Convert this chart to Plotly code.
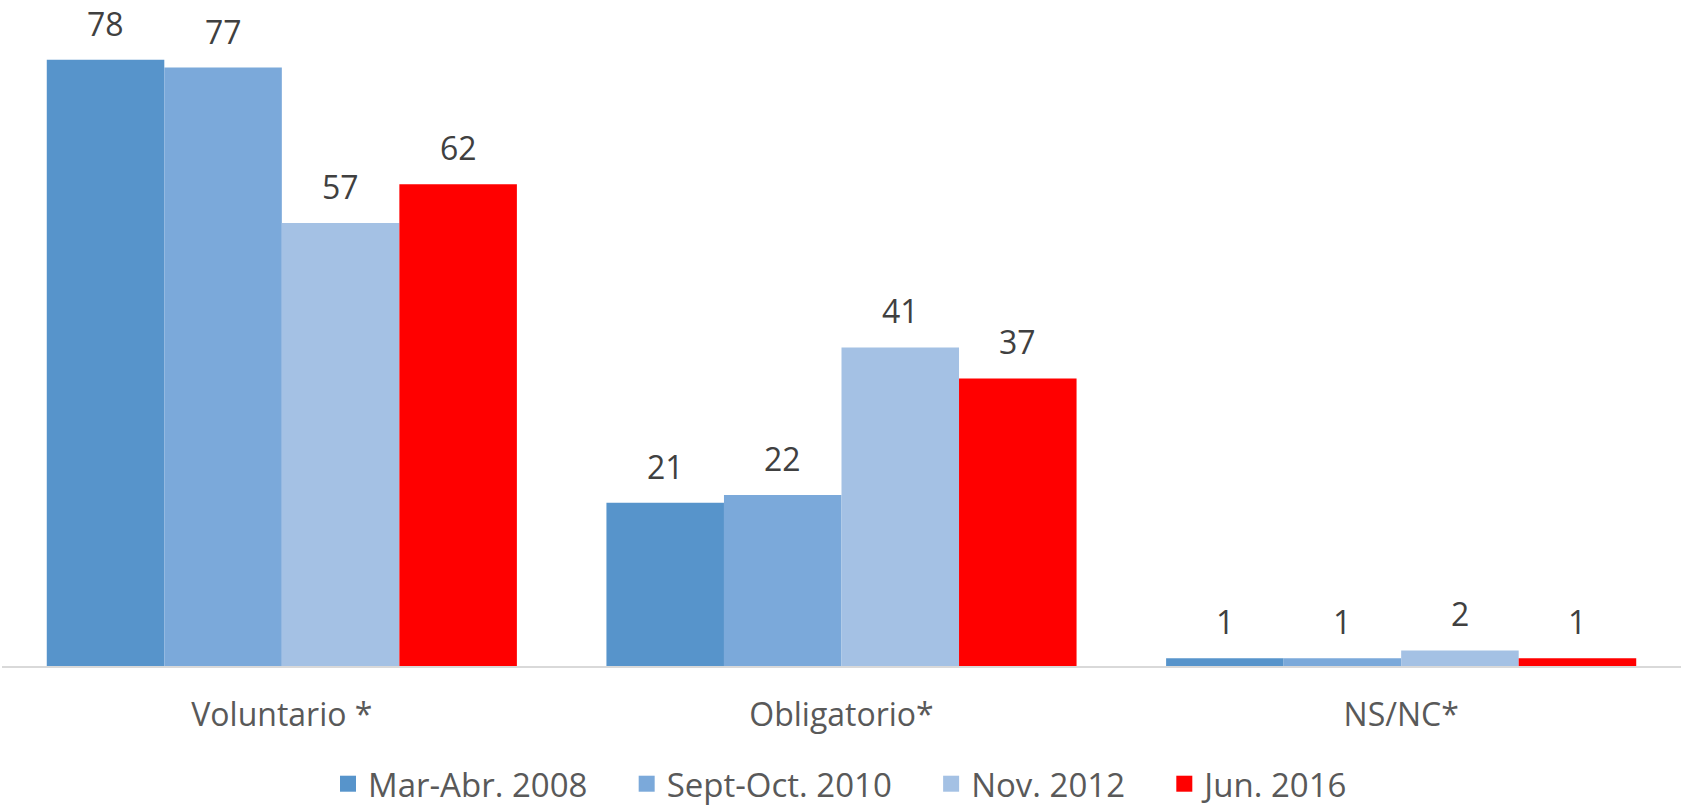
import plotly.graph_objects as go

categories = ["Voluntario *", "Obligatorio*", "NS/NC*"]
series_names = ["Mar-Abr. 2008", "Sept-Oct. 2010", "Nov. 2012", "Jun. 2016"]
vals_2008 = [78, 21, 1]
vals_2010 = [77, 22, 1]
vals_2012 = [57, 41, 2]
vals_2016 = [62, 37, 1]
colors = ["#5794CB", "#7BA9DA", "#A4C1E4", "#FF0000"]

all_vals = [vals_2008, vals_2010, vals_2012, vals_2016]
bargap = 0.16
n = len(all_vals)
bw = (1 - bargap) / n

fig = go.Figure()
for name, vals, col in zip(series_names, all_vals, colors):
    fig.add_trace(go.Bar(x=categories, y=vals, name=name, showlegend=False,
                         marker=dict(color=col, line=dict(width=0))))

# legend-only entries with larger square swatches
pad = "\u00a0" * 4
for k, (name, col) in enumerate(zip(series_names, colors)):
    label = name + (pad if k < n - 1 else "")
    fig.add_trace(go.Scatter(x=[None], y=[None], mode="markers", name=label,
                             marker=dict(symbol="square", size=16, color=col)))

annotations = []
for i, vals in enumerate(all_vals):
    for j, v in enumerate(vals):
        annotations.append(dict(
            x=j + (i - (n - 1) / 2) * bw, y=v, xref="x", yref="y",
            text=str(v), showarrow=False, yanchor="bottom", yshift=13,
            font=dict(family="Open Sans", size=32, color="#404040"),
        ))

fig.update_layout(
    width=1681, height=808,
    margin=dict(l=2, r=0, t=0, b=142, autoexpand=False),
    barmode="group", bargap=bargap, bargroupgap=0,
    plot_bgcolor="white", paper_bgcolor="white",
    font=dict(family="Open Sans", size=32, color="#595959"),
    xaxis=dict(showline=True, linecolor="#D9D9D9", linewidth=1.5, ticks="", automargin=False,
               tickfont=dict(size=32, color="#595959"), ticklabelstandoff=20),
    yaxis=dict(range=[0, 85.7], visible=False, showgrid=False, automargin=False),
    legend=dict(orientation="h", x=0.5, xanchor="center", yref="container", y=0.03, yanchor="middle",
                font=dict(size=33, color="#595959"), traceorder="normal", itemsizing="trace"),
    annotations=annotations,
    showlegend=True,
)

fig.write_html("out.html", config={"displayModeBar": False},
               post_script="document.body.style.margin='0';document.body.style.overflow='hidden';")
